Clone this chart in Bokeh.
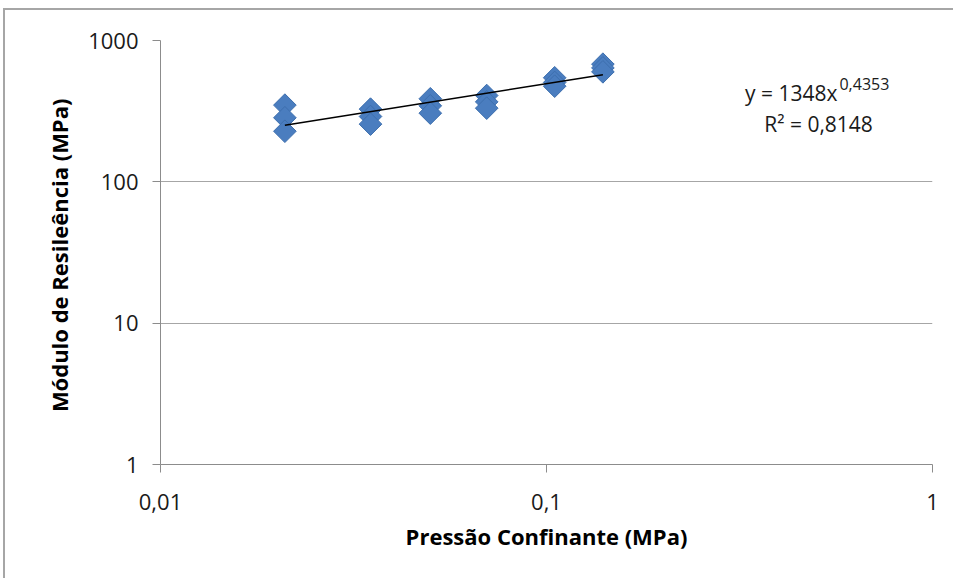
from bokeh.plotting import figure
from bokeh.models import FixedTicker, Label, Range1d
from bokeh.embed import file_html
from bokeh.resources import INLINE

# Data
pressure = [0.021, 0.021, 0.021,
            0.035, 0.035, 0.035,
            0.05, 0.05, 0.05,
            0.07, 0.07, 0.07,
            0.105, 0.105, 0.105,
            0.14, 0.14, 0.14]
modulus = [349, 284, 228,
           327, 290, 256,
           387, 345, 306,
           408, 368, 332,
           545, 505, 475,
           680, 640, 600]

trend_x = [0.021, 0.14]
trend_y = [251, 573]

x_ticks = [0.01, 0.1, 1]
x_tick_labels = ["0,01", "0,1", "1"]
y_ticks = [1, 10, 100, 1000]
y_tick_labels = ["1", "10", "100", "1000"]

equation_main = "y = 1348x"
equation_exp = "0,4353"
r2_text = "R\u00b2 = 0,8148"

FONT = "Open Sans"
GRID = "#a6a6a6"

p = figure(width=950, height=570, x_axis_type="log", y_axis_type="log",
           x_range=Range1d(0.01, 1), y_range=Range1d(1, 1000),
           output_backend="svg", toolbar_location=None,
           min_border_left=155, min_border_right=23,
           min_border_top=30, min_border_bottom=116)
p.styles = {"border-left": "2px solid #a6a6a6", "border-top": "2px solid #a6a6a6",
            "margin-left": "3px", "margin-top": "8px"}
p.outline_line_color = None
p.background_fill_color = "white"
p.border_fill_color = "white"

p.xgrid.grid_line_color = None
p.ygrid.grid_line_color = GRID
p.ygrid.grid_line_width = 1

for ax in (p.xaxis[0], p.yaxis[0]):
    ax.axis_line_color = "#8c8c8c"
    ax.major_tick_line_color = "#8c8c8c"
    ax.minor_tick_line_color = None
    ax.major_tick_in = 0
    ax.major_tick_out = 8
    ax.major_label_text_font = FONT
    ax.major_label_text_font_size = "22px"
    ax.major_label_text_color = "#1a1a1a"
    ax.axis_label_text_font = FONT
    ax.axis_label_text_font_style = "bold"
    ax.axis_label_text_font_size = "22px"
    ax.axis_label_text_color = "#000000"

p.xaxis.ticker = FixedTicker(ticks=x_ticks)
p.xaxis.major_label_overrides = dict(zip(x_ticks, x_tick_labels))
p.yaxis.ticker = FixedTicker(ticks=y_ticks)
p.yaxis.major_label_overrides = dict(zip(y_ticks, y_tick_labels))
p.xaxis.major_label_standoff = 21
p.yaxis.major_label_standoff = 14
p.xaxis.axis_label = "Pressão Confinante (MPa)"
p.yaxis.axis_label = "Módulo de Resileência  (MPa)"
p.xaxis.axis_label_standoff = 8
p.yaxis.axis_label_standoff = 11

p.scatter(pressure, modulus, marker="square", angle=0.785398, size=16,
          fill_color="#4a7dbf", line_color="#3d6fae", line_width=1)
p.line(trend_x, trend_y, line_color="black", line_width=1.5)

p.add_layout(Label(x=0.5675, y=428.5, text=equation_main, text_align="right",
                   text_baseline="alphabetic", text_font=FONT,
                   text_font_size="21px", text_color="#1a1a1a"))
p.add_layout(Label(x=0.574, y=496, text=equation_exp, text_align="left",
                   text_baseline="alphabetic", text_font=FONT,
                   text_font_size="16px", text_color="#1a1a1a"))
p.add_layout(Label(x=0.5067, y=258.6, text=r2_text, text_align="center",
                   text_baseline="alphabetic", text_font=FONT,
                   text_font_size="21px", text_color="#1a1a1a"))

open("out.html", "w").write(file_html(p, INLINE))
